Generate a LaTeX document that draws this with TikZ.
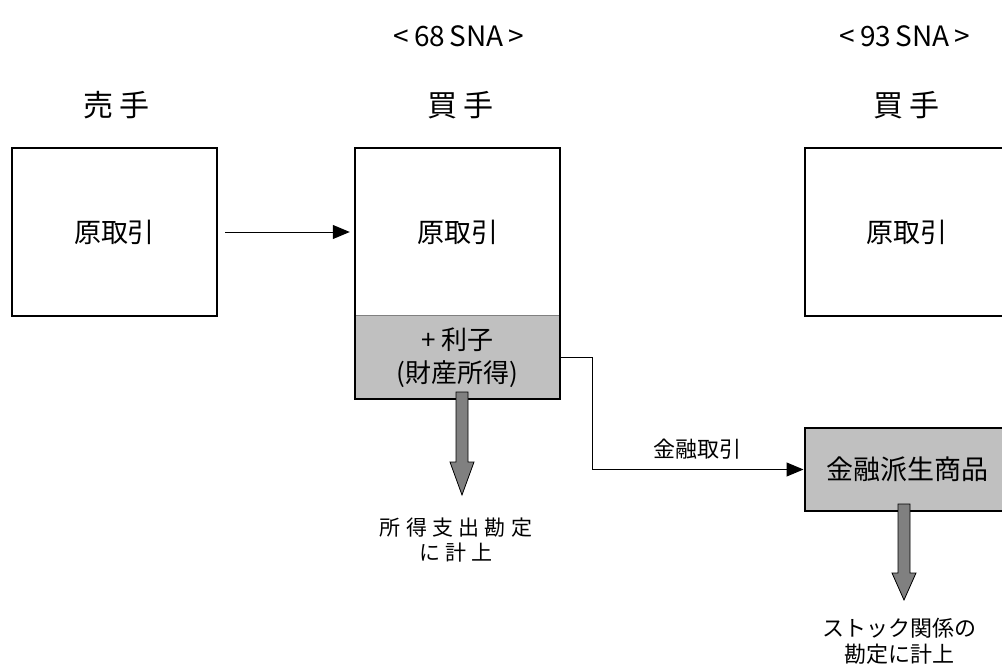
\documentclass[tikz,border=0pt]{standalone}
\usepackage{fontspec}
\setmainfont{Noto Sans CJK JP}
\usetikzlibrary{arrows.meta,calc}
\definecolor{boxgray}{HTML}{C0C0C0}
\definecolor{arrgray}{HTML}{808080}
\begin{document}
\begin{tikzpicture}[x=1pt,y=-1pt,
  box/.style={draw=black,line width=2pt,minimum width=205pt,minimum height=168pt,inner sep=0pt,font=\fontsize{27}{32}\selectfont},
  gbox/.style={fill=boxgray,minimum width=205pt,minimum height=83pt,inner sep=0pt,align=center,font=\fontsize{26}{33}\selectfont},
  head/.style={font=\fontsize{30}{34}\selectfont},
  sna/.style={font=\fontsize{28}{32}\selectfont},
  note/.style={align=center,font=\fontsize{22}{26}\selectfont},
  conn/.style={line width=1pt,-{Triangle[length=17pt,width=14pt]}},
  fat/.style={fill=arrgray,draw=black,line width=0.8pt}]
\useasboundingbox (0,0) rectangle (1002,666);
% headers
\node[sna] (sna68) at (459,36) {<\,68\,SNA\,>};
\node[sna] (sna93) at (905,36) {<\,93\,SNA\,>};
\node[head] (seller) at (116,105) {売\hspace{6pt}手};
\node[head] (buyer1) at (460,105) {買\hspace{6pt}手};
\node[head] (buyer2) at (906,105) {買\hspace{6pt}手};
% boxes
\node[box] (left) at (114.5,232) {原取引};
\node[minimum width=205pt,minimum height=168pt,inner sep=0pt,font=\fontsize{27}{32}\selectfont] (mid) at (457.5,232) {原取引};
\node[gbox] (midg) at (457.5,357.5) {+ 利子\\(財産所得)};
\draw[draw=gray,line width=1pt] (midg.north west) -- (midg.north east);
\draw[line width=2pt] (mid.north west) rectangle (midg.south east);
\node[box] (right) at (907,232) {原取引};
\node[box,fill=boxgray,minimum height=83pt] (deriv) at (907,469.5) {金融派生商品};
% connectors
\draw[conn,shorten <=7pt,shorten >=5pt] (left) -- (mid);
\draw[conn] (midg.east) -- ++(32,0) |- (deriv.west) node[pos=0.75,above=6pt,font=\fontsize{22}{24}\selectfont] (fin) {金融取引};
% fat arrows
\coordinate (a1) at (462,392);
\draw[fat] ($(a1)+(-6,0)$) -- ($(a1)+(-6,70)$) -- ($(a1)+(-12,70)$) -- ($(a1)+(0,103)$) -- ($(a1)+(12,70)$) -- ($(a1)+(6,70)$) -- ($(a1)+(6,0)$) -- cycle;
\coordinate (a2) at (904,504);
\draw[fat] ($(a2)+(-6,0)$) -- ($(a2)+(-6,69)$) -- ($(a2)+(-12,69)$) -- ($(a2)+(0,96)$) -- ($(a2)+(12,69)$) -- ($(a2)+(6,69)$) -- ($(a2)+(6,0)$) -- cycle;
% notes
\node[note,font=\fontsize{21}{25}\selectfont\addfontfeature{LetterSpace=25}] (n1) at (456,540) {所得支出勘定\\に計上};
\node[note] (n2) at (899,641) {ストック関係の\\勘定に計上};
\end{tikzpicture}
\end{document}
